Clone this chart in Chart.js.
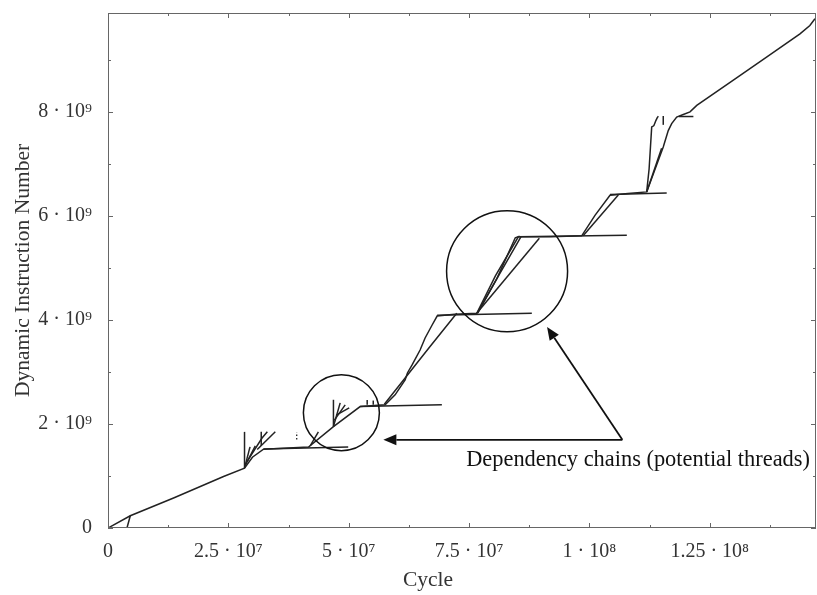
<!DOCTYPE html>
<html><head><meta charset="utf-8">
<script src="https://cdn.jsdelivr.net/npm/chart.js@4.4.1/dist/chart.umd.min.js"></script>
<style>html,body{margin:0;padding:0;background:#fff;}canvas{display:block;}</style>
</head><body>
<canvas id="c" width="817" height="595"></canvas>
<script>
// ---- axis ticks ----
const xTicks = [0, 2.5e7, 5e7, 7.5e7, 1e8, 1.25e8];
const xTickLabels = ['0', '2.5 · 10⁷', '5 · 10⁷', '7.5 · 10⁷', '1 · 10⁸', '1.25 · 10⁸'];
const xMinorTicks = [1.25e7, 3.75e7, 6.25e7, 8.75e7, 1.125e8, 1.375e8];
const yTicks = [0, 2e9, 4e9, 6e9, 8e9];
const yTickLabels = ['0', '2 · 10⁹', '4 · 10⁹', '6 · 10⁹', '8 · 10⁹'];
const yMinorTicks = [1e9, 3e9, 5e9, 7e9, 9e9];
const xTitle = 'Cycle';
const yTitle = 'Dynamic Instruction Number';
const noteText = 'Dependency chains (potential threads)';

// ---- series: [cycle in millions, dynamic instruction in billions] ----
const mainChain = [[0,0],[4.63,0.236],[13.62,0.576],[24.0,0.99],[28.36,1.152],[30.0,1.36],[32.3,1.516],[41.65,1.555],[46.83,1.95],[52.38,2.334],[57.57,2.367],[59.64,2.559],[61.72,2.846],[62.2,2.98],[63.17,3.134],[64.83,3.422],[65.87,3.653],[67.33,3.902],[68.37,4.075],[72.0,4.11],[76.6,4.127],[80.5,4.85],[85.24,5.597],[92.0,5.60],[98.4,5.616],[101.16,6.01],[104.28,6.397],[108.0,6.43],[111.9,6.461],[115.34,7.325],[116.38,7.64],[117.09,7.773],[118.13,7.9],[119.5,7.95],[120.9,8.0],[122.3,8.125],[129.9,8.61],[136.8,9.05],[143.74,9.5],[145.8,9.66],[146.85,9.79]];
const startThread = [[0,0],[3.94,0],[4.63,0.236]];
const plateau1 = [[32.3,1.52],[49.9,1.555]];
const plateau2 = [[52.38,2.334],[69.35,2.367]];
const plateau3 = [[68.37,4.09],[88.04,4.127]];
const plateau4 = [[85.24,5.6],[107.77,5.63]];
const plateau5 = [[104.28,6.41],[116.06,6.44]];
const plateau6 = [[118.6,7.91],[121.6,7.91]];
const climb4b = [[57.4,2.38],[66.9,3.49],[72.45,4.127]];
const climb5b = [[76.8,4.13],[80.8,4.80],[84.6,5.58],[85.5,5.61]];
const climb5c = [[76.7,4.13],[81.2,4.86],[85.8,5.60]];
const climb5slow = [[76.6,4.127],[89.6,5.57]];
const climb6b = [[98.7,5.616],[106.0,6.40]];
const climb7tall = [[111.9,6.461],[112.4,6.9],[112.94,7.71],[113.15,7.72],[113.4,7.735],[113.83,7.837],[114.1,7.89],[114.33,7.914]];
const climb7b = [[111.9,6.46],[115.0,7.30]];
const mark7 = [[115.34,7.75],[115.34,7.92]];
const fanV1 = [[28.36,1.152],[28.36,1.848]];
const fanF1 = [[28.36,1.152],[29.5,1.56]];
const fanF2 = [[28.5,1.2],[30.6,1.58]];
const fanF3 = [[28.9,1.28],[32.0,1.73],[33.1,1.85]];
const fanV2 = [[31.83,1.58],[31.83,1.85]];
const fanF4 = [[31.0,1.51],[34.75,1.85]];
const fanF8 = [[42.0,1.58],[43.7,1.85]];
const fanV3 = [[46.83,1.95],[46.83,2.465]];
const fanF5 = [[46.83,1.95],[48.23,2.405]];
const fanF6 = [[47.0,2.07],[49.27,2.367]];
const fanF7 = [[47.4,2.17],[50.1,2.31]];
const markA = [[39.2,1.70],[39.2,1.84]];
const markB = [[53.84,2.37],[53.84,2.46]];
const markC = [[55.1,2.37],[55.1,2.45]];

const solidSeries = [mainChain, startThread, plateau1, plateau2, plateau3, plateau4, plateau5, plateau6,
  climb4b, climb5b, climb5c, climb5slow, climb6b, climb7tall, climb7b, mark7,
  fanV1, fanF1, fanF2, fanF3, fanV2, fanF4, fanF8, fanV3, fanF5, fanF6, fanF7, markB, markC];
const dottedSeries = [markA];

// annotations in data units (millions / billions)
const circles = [[48.48, 2.217], [82.9, 4.935]];
const circleRadii = [38, 60.5];
const arrowBase = [106.85, 1.695];
const arrowTips = [[57.2, 1.695], [91.2, 3.864]];
const notePos = [74.4, 1.30];

const M = 1e6, B = 1e9;
const toPts = a => a.map(p => ({x: p[0]*M, y: p[1]*B}));
const lineColor = '#222';
const datasets = solidSeries.map(s => ({data: toPts(s), showLine: true, borderColor: lineColor, borderWidth: 1.5, pointRadius: 0, tension: 0}))
  .concat(dottedSeries.map(s => ({data: toPts(s), showLine: true, borderColor: lineColor, borderWidth: 1.3, borderDash: [1.5, 2], pointRadius: 0})));

const serif = '"Liberation Serif", "DejaVu Serif", serif';

const decor = {
  id: 'decor',
  afterDraw(chart) {
    const {ctx, chartArea: a, scales: {x, y}} = chart;
    ctx.save();
    // frame
    ctx.strokeStyle = '#666';
    ctx.lineWidth = 1;
    ctx.strokeRect(a.left + 0.5, a.top + 0.5, a.right - a.left - 1, a.bottom - a.top - 1);
    // inward ticks
    ctx.beginPath();
    const xt = (v, len) => { const px = Math.round(x.getPixelForValue(v)) + 0.5;
      ctx.moveTo(px, a.bottom); ctx.lineTo(px, a.bottom - len);
      ctx.moveTo(px, a.top); ctx.lineTo(px, a.top + len); };
    const yt = (v, len) => { const py = Math.round(y.getPixelForValue(v)) + 0.5;
      ctx.moveTo(a.left, py); ctx.lineTo(a.left + len, py);
      ctx.moveTo(a.right, py); ctx.lineTo(a.right - len, py); };
    xTicks.forEach(v => xt(v, 5)); xMinorTicks.forEach(v => xt(v, 3));
    yTicks.forEach(v => yt(v, 5)); yMinorTicks.forEach(v => yt(v, 3));
    ctx.stroke();

    // circles
    ctx.strokeStyle = '#111';
    ctx.lineWidth = 1.5;
    circles.forEach((c, i) => {
      ctx.beginPath();
      ctx.arc(x.getPixelForValue(c[0]*M), y.getPixelForValue(c[1]*B), circleRadii[i], 0, Math.PI*2);
      ctx.stroke();
    });
    // arrows
    const bx = x.getPixelForValue(arrowBase[0]*M), by = y.getPixelForValue(arrowBase[1]*B);
    ctx.lineWidth = 1.8;
    ctx.fillStyle = '#111';
    arrowTips.forEach(t => {
      const tx = x.getPixelForValue(t[0]*M), ty = y.getPixelForValue(t[1]*B);
      const ang = Math.atan2(ty - by, tx - bx);
      const hl = 13, hw = 5.5;
      const ex = tx - Math.cos(ang)*hl, ey = ty - Math.sin(ang)*hl;
      ctx.beginPath(); ctx.moveTo(bx, by); ctx.lineTo(ex, ey); ctx.stroke();
      ctx.beginPath();
      ctx.moveTo(tx, ty);
      ctx.lineTo(ex + Math.sin(ang)*hw, ey - Math.cos(ang)*hw);
      ctx.lineTo(ex - Math.sin(ang)*hw, ey + Math.cos(ang)*hw);
      ctx.closePath(); ctx.fill();
    });
    // note text
    ctx.fillStyle = '#111';
    ctx.font = '22.4px ' + serif;
    ctx.textAlign = 'left'; ctx.textBaseline = 'middle';
    ctx.fillText(noteText, x.getPixelForValue(notePos[0]*M), y.getPixelForValue(notePos[1]*B));
    // axis titles
    ctx.fillStyle = '#333';
    ctx.font = '21.5px ' + serif;
    ctx.textAlign = 'center'; ctx.textBaseline = 'middle';
    ctx.fillText(xTitle, 428, 580);
    ctx.translate(23, (a.top + a.bottom)/2);
    ctx.rotate(-Math.PI/2);
    ctx.fillText(yTitle, 0, 0);
    ctx.restore();
  }
};

new Chart(document.getElementById('c'), {
  type: 'scatter',
  data: {datasets},
  options: {
    responsive: false, animation: false, devicePixelRatio: 1, events: [],
    layout: {padding: {top: 13, right: 1, left: 0, bottom: 0}},
    plugins: {legend: {display: false}, tooltip: {enabled: false}},
    scales: {
      x: {type: 'linear', min: 0, max: 1.4707e8,
        grid: {display: false, drawTicks: false}, border: {display: false},
        afterBuildTicks: s => { s.ticks = xTicks.map(v => ({value: v})); },
        afterFit: s => { s.height = 67; s.paddingLeft = 0; s.paddingRight = 0; },
        ticks: {padding: 12, color: '#333', font: {family: serif, size: 20}, maxRotation: 0,
          callback: v => xTickLabels[xTicks.indexOf(v)]}},
      y: {type: 'linear', min: 0, max: 9.9e9,
        grid: {display: false, drawTicks: false}, border: {display: false},
        afterBuildTicks: s => { s.ticks = yTicks.map(v => ({value: v})); },
        afterFit: s => { s.width = 108; s.paddingTop = 0; s.paddingBottom = 0; },
        ticks: {padding: 16, color: '#333', font: {family: serif, size: 20},
          callback: v => yTickLabels[yTicks.indexOf(v)]}}
    }
  },
  plugins: [decor]
});
</script>
</body></html>
